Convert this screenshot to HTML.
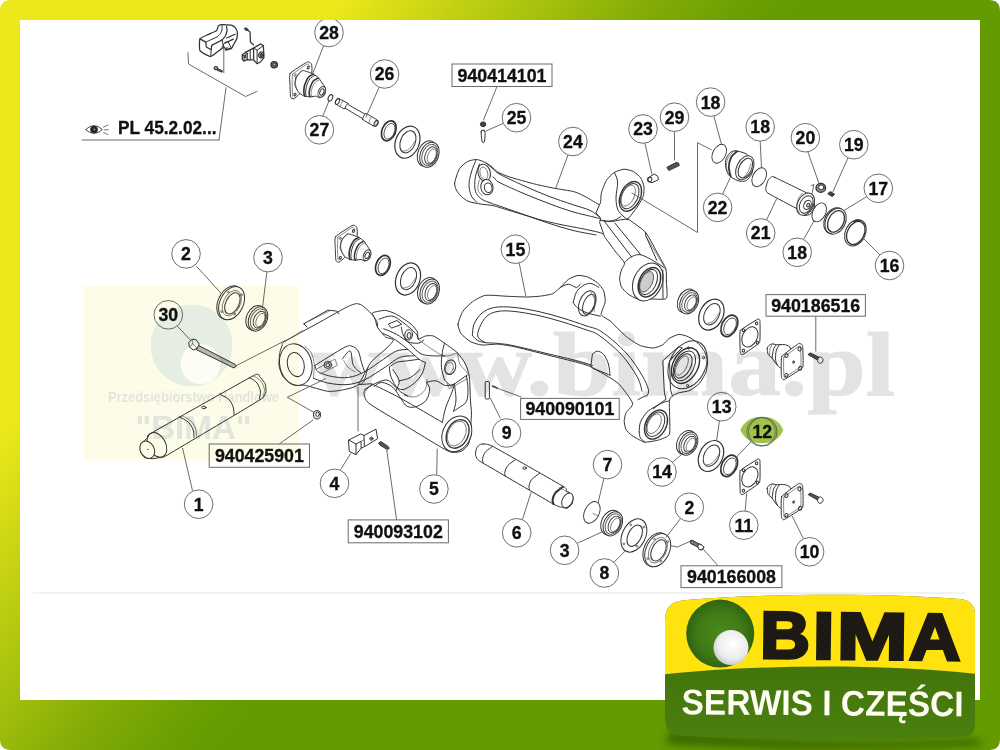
<!DOCTYPE html>
<html lang="pl"><head><meta charset="utf-8"><title>BIMA - serwis i części</title>
<style>
html,body{margin:0;padding:0;background:#fff;}
body{width:1000px;height:750px;overflow:hidden;font-family:'Liberation Sans',Arial,sans-serif;}
svg{display:block;}
.p{fill:#fff;stroke:#333;stroke-width:1;stroke-linejoin:round;stroke-linecap:round;}
.n{fill:none;stroke:#333;stroke-width:1;stroke-linejoin:round;stroke-linecap:round;}
.t{fill:none;stroke:#555;stroke-width:.7;stroke-linejoin:round;stroke-linecap:round;}
.l{fill:none;stroke:#5a5a5a;stroke-width:.9;stroke-linecap:round;}
.c{fill:#fff;stroke:#666;stroke-width:.95;}
.num{font-family:'Liberation Sans',Arial,sans-serif;font-weight:bold;font-size:17.7px;fill:#111;stroke:#111;stroke-width:.3;text-anchor:middle;}
.box{fill:#fff;stroke:#6a6a6a;stroke-width:1;}
.g{fill:#ddd;stroke:#333;stroke-width:1;}
</style></head><body>
<svg width="1000" height="750" viewBox="0 0 1000 750">
<defs>
<linearGradient id="fr" gradientUnits="userSpaceOnUse" x1="211.4" y1="164.9" x2="497.4" y2="388"><stop offset="0" stop-color="#ece81a"/><stop offset="0.239" stop-color="#c7d313"/><stop offset="0.5" stop-color="#9ebc0c"/><stop offset="0.696" stop-color="#81ab06"/><stop offset="0.891" stop-color="#6b9f02"/><stop offset="1" stop-color="#649b01"/></linearGradient>
<radialGradient id="ball" cx="0.55" cy="0.4" r="0.7"><stop offset="0" stop-color="#fff"/><stop offset="0.6" stop-color="#ececec"/><stop offset="1" stop-color="#bdbdbd"/></radialGradient>
<radialGradient id="gc" cx="0.5" cy="0.5" r="0.55"><stop offset="0" stop-color="#4a8a1c"/><stop offset="0.6" stop-color="#3f7a17"/><stop offset="1" stop-color="#2c5c0e"/></radialGradient>
<linearGradient id="lg" x1="0" y1="0" x2="0" y2="1"><stop offset="0" stop-color="#3c690a"/><stop offset="1" stop-color="#4a800e"/></linearGradient>
<filter id="sh" x="-10%" y="-10%" width="120%" height="140%"><feGaussianBlur stdDeviation="4"/></filter>
</defs>

<line x1="33" y1="593" x2="965" y2="593" stroke="#e6e6e6" stroke-width="1"/>
<g id="parts">
<path class="p" d="M200,38.9 C200.6,37.7 207.3,35 208.5,34.4 C209.7,33.8 215.9,31.3 216.6,30.6 C217.3,30 218.1,26 218.6,25.6 C219,25.1 222,24.5 222.9,24.5 C223.8,24.5 230.1,25 231,25.2 C231.9,25.4 234.3,26.7 234.8,27.2 C235.2,27.7 237.1,30.9 237.3,31.7 C237.5,32.5 237.3,37.1 237,38 C236.8,38.9 234.6,42.8 234.2,43.6 C233.7,44.3 232,47.9 231.5,48.4 C230.9,48.8 226.6,50.2 226.1,50.2 C225.5,50.1 224.9,46.7 223.8,47.2 C222.7,47.6 212.5,56.2 210.8,56.5 C209,56.7 200.7,51.9 200,50.6 C199.2,49.3 199.3,40.1 200,38.9Z" style="stroke-width:1.25"/>
<path class="n" d="M200,38.9 L205.8,42.1 L206.3,47 L211.2,49.7 L211.7,45.4 L222,40" style="stroke-width:1.25"/>
<path class="n" d="M222,40 C222.5,39.4 224.3,37.7 225.2,36.2 C226,34.7 226.7,32.5 227,30.8 C227.2,29.2 226.6,27.1 226.5,26.3" style="stroke-width:1.25"/>
<path class="n" d="M205.8,42.1 L217.1,36.9"/>
<path class="n" d="M211.2,49.7 L210.8,56.5"/>
<path class="n" d="M222,40 L223.8,47.2"/>
<path class="n" d="M217.1,36.9 C217.5,36.5 218.9,35.6 219.8,34.4 C220.6,33.2 221.6,31.4 222,29.9 C222.4,28.4 222,26.3 222,25.6"/>
<path class="n" d="M225.2,43 L233.3,39.1" style="stroke-width:1.25"/>
<path class="n" d="M226.7,38 L235.1,34.2" style="stroke-width:1.25"/>
<path class="n" d="M222,47 L224.9,42.5 L227.9,41.6 L231.5,48.4"/>
<path class="n" d="M226.1,50.2 L226.5,47.9 L231,48.6"/>
<path class="l" d="M223.8,47.2 L223.8,72.7"/>
<path class="g" d="M217.5,68.6 L222.5,70.9 L222,72.2 L217.1,70.2Z" style="fill:#666"/>
<ellipse class="g" cx="215.9" cy="68.2" rx="1.8" ry="1.5" transform="rotate(0 215.9 68.2)" style="fill:#bbb;stroke-width:1.2"/>
<path class="n" d="M246.8,29.7 L250.1,31.9 L250.4,42.1 L253.5,44.8" style="stroke-width:1.25"/>
<path class="g" d="M244.3,28.3 L246.5,27.9 L248.3,29.7 L247,30.6 L245,29.7Z" style="fill:#444"/>
<path class="p" d="M245.4,52.4 L253.5,48.1 L260.7,43.9 L263.4,45.7 L263.9,57.8 L260,62.3 L257.1,63.7 L253.5,59.8 L249,59.8 L247.2,59.6 L244.1,61 L242.3,59.6 L242.3,54.7Z" style="stroke-width:1.25"/>
<path class="n" d="M245.4,52.4 L247.2,53.5 L247.2,59.6" style="stroke-width:1.25"/>
<path class="n" d="M242.3,54.7 L244.1,55.8 L244.1,61"/>
<path class="n" d="M244.1,55.8 L247.2,53.5"/>
<path class="n" d="M253.5,48.1 L253.7,59.6" style="stroke-width:1.25"/>
<path class="n" d="M250.1,50.2 L250.3,59.6"/>
<path class="n" d="M253.5,48.1 L257.1,50.2 L257.1,63.7"/>
<path class="n" d="M257.1,50.2 L263.4,45.7"/>
<ellipse class="p" cx="261.2" cy="54.9" rx="2.4" ry="3" transform="rotate(15 261.2 54.9)" style="stroke-width:1.25"/>
<ellipse class="g" cx="261.4" cy="55.1" rx="1.2" ry="1.5" transform="rotate(15 261.4 55.1)" style="fill:#555"/>
<ellipse class="g" cx="245" cy="56.7" rx="0.7" ry="1.6" transform="rotate(0 245 56.7)" style="fill:#555"/>
<ellipse class="g" cx="274.2" cy="64.8" rx="3.2" ry="3.1" transform="rotate(0 274.2 64.8)" style="fill:#666;stroke-width:1.3"/>
<ellipse class="g" cx="274.6" cy="64.5" rx="1.4" ry="1.3" transform="rotate(0 274.6 64.5)" style="fill:#bbb"/>
<g transform="translate(0 0)">
<path class="p" d="M290.2,73.4 C291.6,71.5 304.9,63.3 306.6,62.4 C308.2,61.4 309.3,62.2 309.8,62.4 C310.2,62.6 311.5,64 311.7,64.8 C311.9,65.6 312.2,70.9 311.8,72.5 C311.4,74.1 307.9,82.2 306.9,84 C305.8,85.8 300.3,93 299.2,94.2 C298.1,95.5 294.5,98.6 293.8,98.8 C293,99.1 290.9,98.3 290.6,97.1 C290.3,96 290.1,87.3 290,85.3 C290,83.3 288.9,75.3 290.2,73.4Z"/>
<path class="t" d="M292.5,74.1 C293.9,73.1 304.6,65.4 306.2,64.5 C307.9,63.6 308.4,64.6 308.8,64.8 C309.2,65 309.7,66.5 309.8,66.7"/>
<path class="t" d="M292.5,74.1 C292.4,75.2 292.1,83.1 292.2,85.3 C292.2,87.5 292.6,95.1 292.7,96.2"/>
<ellipse class="n" cx="308.2" cy="67.7" rx="1" ry="1.4" transform="rotate(20 308.2 67.7)"/>
<ellipse class="t" cx="295" cy="75" rx="0.9" ry="1.3" transform="rotate(20 295 75)"/>
<ellipse class="n" cx="295" cy="94.6" rx="1" ry="1.4" transform="rotate(20 295 94.6)"/>
<path class="p" d="M296,77.6 C296.7,76.1 300.7,70.9 302.4,70.6 C304.1,70.2 311.7,73.3 313.3,74.1 C314.9,74.8 317.3,76.7 318.4,77.9 C319.5,79.1 323.4,84.7 324.2,85.9 C324.9,87.2 325.6,89.4 325.6,90.4 C325.6,91.4 324.7,94.8 324.2,95.5 C323.6,96.3 320.5,97.7 319.7,97.8 C318.8,97.8 316.8,96.3 315.8,96.2 C314.9,96.1 311.2,96.8 310.1,96.8 C309,96.8 305.7,96.5 304.6,96.2 C303.6,95.8 300.2,94 299.2,93 C298.2,91.9 295.4,86.8 295,85.3 C294.7,83.7 295.3,79.1 296,77.6Z"/>
<path class="t" d="M302.4,70.6 C301.7,71.3 299.1,73.1 297.9,75 C296.7,77 295.6,79.6 295.4,82.1 C295.2,84.5 296.5,88.5 296.8,89.8"/>
<path class="n" d="M313.3,74.1 C312.4,74.7 309.6,75.7 308.2,77.6 C306.7,79.5 305.4,82.9 304.6,85.3 C303.9,87.6 303.8,89.9 303.8,91.7 C303.8,93.5 304.5,95.4 304.6,96.2" style="stroke-width:1.6"/>
<path class="n" d="M314.9,75.4 C314,75.9 311.2,77 309.8,78.9 C308.3,80.7 307.1,84.2 306.4,86.6 C305.7,88.9 305.6,91.3 305.6,93 C305.6,94.6 306.2,95.9 306.4,96.5"/>
<path class="n" d="M318.4,77.9 C317.5,78.5 314.7,79.5 313.3,81.1 C311.9,82.8 310.8,85.8 310.1,87.8 C309.4,89.9 309.1,92.1 309.1,93.6 C309.1,95.1 309.9,96.3 310.1,96.8" style="stroke-width:1.5"/>
<path class="t" d="M320,79.5 C319.1,80.1 316.2,81.1 314.9,82.7 C313.5,84.3 312.4,87.2 311.8,89.1 C311.2,91 311,92.9 311,94.2 C311,95.5 311.7,96.5 311.8,96.9"/>
<ellipse class="p" cx="321.7" cy="91.8" rx="3.3" ry="5.6" transform="rotate(25 321.7 91.8)"/>
<ellipse class="n" cx="321.9" cy="92" rx="1.9" ry="3.3" transform="rotate(25 321.9 92)"/>
</g>
<g transform="translate(45.3 163.3)">
<path class="p" d="M290.2,73.4 C291.6,71.5 304.9,63.3 306.6,62.4 C308.2,61.4 309.3,62.2 309.8,62.4 C310.2,62.6 311.5,64 311.7,64.8 C311.9,65.6 312.2,70.9 311.8,72.5 C311.4,74.1 307.9,82.2 306.9,84 C305.8,85.8 300.3,93 299.2,94.2 C298.1,95.5 294.5,98.6 293.8,98.8 C293,99.1 290.9,98.3 290.6,97.1 C290.3,96 290.1,87.3 290,85.3 C290,83.3 288.9,75.3 290.2,73.4Z"/>
<path class="t" d="M292.5,74.1 C293.9,73.1 304.6,65.4 306.2,64.5 C307.9,63.6 308.4,64.6 308.8,64.8 C309.2,65 309.7,66.5 309.8,66.7"/>
<path class="t" d="M292.5,74.1 C292.4,75.2 292.1,83.1 292.2,85.3 C292.2,87.5 292.6,95.1 292.7,96.2"/>
<ellipse class="n" cx="308.2" cy="67.7" rx="1" ry="1.4" transform="rotate(20 308.2 67.7)"/>
<ellipse class="t" cx="295" cy="75" rx="0.9" ry="1.3" transform="rotate(20 295 75)"/>
<ellipse class="n" cx="295" cy="94.6" rx="1" ry="1.4" transform="rotate(20 295 94.6)"/>
<path class="p" d="M296,77.6 C296.7,76.1 300.7,70.9 302.4,70.6 C304.1,70.2 311.7,73.3 313.3,74.1 C314.9,74.8 317.3,76.7 318.4,77.9 C319.5,79.1 323.4,84.7 324.2,85.9 C324.9,87.2 325.6,89.4 325.6,90.4 C325.6,91.4 324.7,94.8 324.2,95.5 C323.6,96.3 320.5,97.7 319.7,97.8 C318.8,97.8 316.8,96.3 315.8,96.2 C314.9,96.1 311.2,96.8 310.1,96.8 C309,96.8 305.7,96.5 304.6,96.2 C303.6,95.8 300.2,94 299.2,93 C298.2,91.9 295.4,86.8 295,85.3 C294.7,83.7 295.3,79.1 296,77.6Z"/>
<path class="t" d="M302.4,70.6 C301.7,71.3 299.1,73.1 297.9,75 C296.7,77 295.6,79.6 295.4,82.1 C295.2,84.5 296.5,88.5 296.8,89.8"/>
<path class="n" d="M313.3,74.1 C312.4,74.7 309.6,75.7 308.2,77.6 C306.7,79.5 305.4,82.9 304.6,85.3 C303.9,87.6 303.8,89.9 303.8,91.7 C303.8,93.5 304.5,95.4 304.6,96.2" style="stroke-width:1.6"/>
<path class="n" d="M314.9,75.4 C314,75.9 311.2,77 309.8,78.9 C308.3,80.7 307.1,84.2 306.4,86.6 C305.7,88.9 305.6,91.3 305.6,93 C305.6,94.6 306.2,95.9 306.4,96.5"/>
<path class="n" d="M318.4,77.9 C317.5,78.5 314.7,79.5 313.3,81.1 C311.9,82.8 310.8,85.8 310.1,87.8 C309.4,89.9 309.1,92.1 309.1,93.6 C309.1,95.1 309.9,96.3 310.1,96.8" style="stroke-width:1.5"/>
<path class="t" d="M320,79.5 C319.1,80.1 316.2,81.1 314.9,82.7 C313.5,84.3 312.4,87.2 311.8,89.1 C311.2,91 311,92.9 311,94.2 C311,95.5 311.7,96.5 311.8,96.9"/>
<ellipse class="p" cx="321.7" cy="91.8" rx="3.3" ry="5.6" transform="rotate(25 321.7 91.8)"/>
<ellipse class="n" cx="321.9" cy="92" rx="1.9" ry="3.3" transform="rotate(25 321.9 92)"/>
</g>
<ellipse class="p" cx="330.4" cy="97.9" rx="2.1" ry="3.4" transform="rotate(25 330.4 97.9)"/>
<path class="p" d="M339,98.6 C339.6,98.9 347.5,103.1 348,103.4 C348.5,103.7 347.4,104.1 348.2,104.6 C349.1,105.2 363.9,113.6 364.8,114 C365.7,114.4 365.4,113.1 366,113.4 C366.6,113.7 376.8,119.5 377.4,120 C378,120.5 378.3,122.7 378.2,123 C378.2,123.3 377.3,125.6 377,125.8 C376.8,125.9 374.5,126.6 373.8,126.2 C373.1,125.9 363.2,119.9 362.6,119.5 C362.1,119.1 363,118.9 362.2,118.3 C361.3,117.8 345.9,108.7 345,108.2 C344.1,107.8 344.6,109.2 344.2,109 C343.7,108.8 336.4,104.5 336,104.2 C335.6,103.8 335.4,101.7 335.4,101.4 C335.4,101.1 336.8,99.1 337,99 C337.1,98.9 338.4,98.4 339,98.6Z"/>
<ellipse class="n" cx="337.4" cy="101.6" rx="1.7" ry="3.1" transform="rotate(28 337.4 101.6)"/>
<path class="n" d="M348,103.4 C347.7,103.8 346.7,104.8 346.2,105.6 C345.7,106.4 345.2,107.8 345,108.2"/>
<path class="t" d="M343.2,101 C342.9,101.4 341.9,102.3 341.4,103.2 C340.9,104.1 340.4,105.8 340.2,106.3"/>
<path class="n" d="M365.4,113.6 C365.1,114.1 364.1,115.2 363.6,116.2 C363.1,117.1 362.8,119 362.6,119.5"/>
<path class="t" d="M371.4,117 C371.1,117.5 370,118.7 369.6,119.8 C369.2,120.8 369.1,122.8 369,123.4"/>
<ellipse class="g" cx="376" cy="123.2" rx="1.6" ry="3" transform="rotate(28 376 123.2)"/>
<ellipse class="p" cx="388.8" cy="130.8" rx="6.8" ry="10.4" transform="rotate(22 388.8 130.8)" style="stroke-width:1.7"/>
<ellipse class="n" cx="389.5" cy="131.3" rx="5" ry="8.2" transform="rotate(22 389.5 131.3)" style="stroke-width:.8"/>
<ellipse class="p" cx="407.4" cy="142.2" rx="11.8" ry="16.6" transform="rotate(22 407.4 142.2)" style="stroke-width:1.2"/>
<ellipse class="p" cx="407.9" cy="141.8" rx="7.4" ry="11.6" transform="rotate(22 407.9 141.8)"/>
<path class="t" d="M402.9,151.2 Q409.4,152.2 415.6,140.2"/>
<ellipse class="p" cx="427.2" cy="153.6" rx="9.4" ry="13.2" transform="rotate(22 427.2 153.6)"/>
<ellipse class="p" cx="429.4" cy="154.8" rx="9.2" ry="13" transform="rotate(22 429.4 154.8)"/>
<ellipse class="n" cx="429.8" cy="155" rx="7.4" ry="11" transform="rotate(22 429.8 155)" style="stroke-width:1.1;stroke-dasharray:1.1 1.1;stroke:#555"/>
<ellipse class="p" cx="430.8" cy="155.4" rx="5.6" ry="9" transform="rotate(22 430.8 155.4)" style="stroke-width:.9"/>
<ellipse class="t" cx="431.8" cy="155.9" rx="4" ry="7.4" transform="rotate(22 431.8 155.9)"/>
<ellipse class="p" cx="382.9" cy="265.4" rx="6.8" ry="10.4" transform="rotate(22 382.9 265.4)" style="stroke-width:1.7"/>
<ellipse class="n" cx="383.6" cy="265.9" rx="5" ry="8.2" transform="rotate(22 383.6 265.9)" style="stroke-width:.8"/>
<ellipse class="p" cx="408" cy="279" rx="11.8" ry="16.6" transform="rotate(22 408 279)" style="stroke-width:1.2"/>
<ellipse class="p" cx="408.5" cy="278.6" rx="7.4" ry="11.6" transform="rotate(22 408.5 278.6)"/>
<path class="t" d="M403.5,288 Q410,289 416.2,277"/>
<ellipse class="p" cx="427.5" cy="290.3" rx="9.4" ry="13.2" transform="rotate(22 427.5 290.3)"/>
<ellipse class="p" cx="429.7" cy="291.5" rx="9.2" ry="13" transform="rotate(22 429.7 291.5)"/>
<ellipse class="n" cx="430.1" cy="291.7" rx="7.4" ry="11" transform="rotate(22 430.1 291.7)" style="stroke-width:1.1;stroke-dasharray:1.1 1.1;stroke:#555"/>
<ellipse class="p" cx="431.1" cy="292.1" rx="5.6" ry="9" transform="rotate(22 431.1 292.1)" style="stroke-width:.9"/>
<ellipse class="t" cx="432.1" cy="292.6" rx="4" ry="7.4" transform="rotate(22 432.1 292.6)"/>
<ellipse class="p" cx="687" cy="301" rx="8.9" ry="12.5" transform="rotate(27 687 301)"/>
<ellipse class="p" cx="689.2" cy="302.2" rx="8.7" ry="12.3" transform="rotate(27 689.2 302.2)"/>
<ellipse class="n" cx="689.6" cy="302.4" rx="7" ry="10.4" transform="rotate(27 689.6 302.4)" style="stroke-width:1.1;stroke-dasharray:1.1 1.1;stroke:#555"/>
<ellipse class="p" cx="690.6" cy="302.8" rx="5.3" ry="8.5" transform="rotate(27 690.6 302.8)" style="stroke-width:.9"/>
<ellipse class="t" cx="691.6" cy="303.3" rx="3.8" ry="7" transform="rotate(27 691.6 303.3)"/>
<ellipse class="p" cx="711.4" cy="314.6" rx="11.6" ry="16.3" transform="rotate(27 711.4 314.6)" style="stroke-width:1.2"/>
<ellipse class="p" cx="711.9" cy="314.2" rx="7.3" ry="11.4" transform="rotate(27 711.9 314.2)"/>
<path class="t" d="M707,323.4 Q713.4,324.4 719.4,312.6"/>
<ellipse class="p" cx="729.4" cy="325.8" rx="7.5" ry="11.4" transform="rotate(27 729.4 325.8)" style="stroke-width:1.7"/>
<ellipse class="n" cx="730.1" cy="326.3" rx="5.5" ry="9" transform="rotate(27 730.1 326.3)" style="stroke-width:.8"/>
<ellipse class="p" cx="686.2" cy="442.4" rx="8.9" ry="12.5" transform="rotate(27 686.2 442.4)"/>
<ellipse class="p" cx="688.4" cy="443.6" rx="8.7" ry="12.3" transform="rotate(27 688.4 443.6)"/>
<ellipse class="n" cx="688.8" cy="443.8" rx="7" ry="10.4" transform="rotate(27 688.8 443.8)" style="stroke-width:1.1;stroke-dasharray:1.1 1.1;stroke:#555"/>
<ellipse class="p" cx="689.8" cy="444.2" rx="5.3" ry="8.5" transform="rotate(27 689.8 444.2)" style="stroke-width:.9"/>
<ellipse class="t" cx="690.8" cy="444.7" rx="3.8" ry="7" transform="rotate(27 690.8 444.7)"/>
<ellipse class="p" cx="711" cy="456" rx="11.6" ry="16.3" transform="rotate(27 711 456)" style="stroke-width:1.2"/>
<ellipse class="p" cx="711.5" cy="455.6" rx="7.3" ry="11.4" transform="rotate(27 711.5 455.6)"/>
<path class="t" d="M706.6,464.8 Q713,465.8 719,454"/>
<ellipse class="p" cx="729.2" cy="465.8" rx="7.5" ry="11.4" transform="rotate(27 729.2 465.8)" style="stroke-width:1.7"/>
<ellipse class="n" cx="729.9" cy="466.3" rx="5.5" ry="9" transform="rotate(27 729.9 466.3)" style="stroke-width:.8"/>
<ellipse class="g" cx="483.1" cy="124.3" rx="2.7" ry="2.4" transform="rotate(0 483.1 124.3)" style="fill:#444"/>
<ellipse class="g" cx="483.1" cy="131.4" rx="1.8" ry="1.3" transform="rotate(0 483.1 131.4)" style="fill:#444"/>
<path class="p" d="M481.2,132 C481.3,130.7 482.6,130.4 483.1,130.4 C483.6,130.4 484.8,130.7 485,132 C485.2,133.3 484.9,138.5 484.7,140 C484.4,141.5 483.5,142.9 483.1,142.9 C482.7,142.9 482.1,141.5 481.8,140 C481.5,138.5 481,133.3 481.2,132Z"/>
<path class="p" d="M454.6,183.2 C454.9,180.8 458,171.1 459.4,168.8 C460.8,166.5 465.6,162.6 467.4,161.6 C469.2,160.6 474.5,159.5 476.2,159.5 C477.9,159.5 481.8,160.9 483.4,161.6 C485,162.3 489.9,165.3 491.4,166.4 C492.9,167.5 495.9,170.9 497.8,172 C499.7,173.1 505.1,175.5 509,176.8 C512.9,178.1 529.8,182.8 534.6,184 C539.4,185.2 549.8,187.4 554,188.2 C558.2,189 570.9,190.8 574.4,191.8 C577.9,192.8 583.7,195.9 586.4,197.2 C589.1,198.5 598,204.8 599.6,204.4 C601.2,204 600.6,195.8 601.3,193.2 C602,190.6 605,182.6 606.4,180.4 C607.8,178.2 612.5,173.6 614.4,172.4 C616.3,171.2 622,169.3 624,169.2 C626,169.1 631.8,170.7 633.6,171.6 C635.4,172.5 639.7,176.4 640.8,178 C641.9,179.6 643.7,184.8 644,186.8 C644.3,188.8 643.8,194.4 643.2,196.4 C642.6,198.4 639.6,203.3 638.4,205.2 C637.2,207.1 633.2,212.5 632,214 C630.8,215.5 627.6,219.1 627.2,219.6 C626.8,220.1 626.1,217.7 628,219 C629.9,220.3 642.3,228.7 645.4,232.2 C648.5,235.7 654.6,248.1 656.8,252 C659,255.9 664.8,265.6 665.8,268.8 C666.8,272 666.3,278.9 666.4,282 C666.5,285.1 667.9,296.4 666.4,298.2 C664.9,300 655.1,299 652,299 C648.9,299.1 640.2,299.3 637.6,298.8 C635,298.3 629.7,295.3 628,294 C626.3,292.7 622.3,288.5 621.4,286.8 C620.5,285.1 619.6,280.2 619.6,278.4 C619.6,276.6 620.9,271.7 621.4,270 C621.9,268.3 625.1,264.9 624.4,262.8 C623.7,260.8 616.8,253.5 614.8,250.8 C612.8,248.1 606.6,239.5 605.2,237.6 C603.8,235.7 604.5,234.2 601.9,233.2 C599.3,232.2 585.3,229.3 580.8,228.4 C576.3,227.5 564.2,225.3 560,224.4 C555.8,223.5 544.7,221 541,220 C537.3,219 528.4,216.2 525,215.2 C521.6,214.2 512.4,211.4 509,210.4 C505.6,209.4 496.1,206.3 493,205.6 C489.9,204.9 482.8,204.4 480.2,204 C477.6,203.6 470.9,202.3 469,201.6 C467.1,200.9 463.9,198.7 462.6,197.6 C461.3,196.5 457.9,192.7 457,191.2 C456.1,189.7 454.3,185.6 454.6,183.2Z"/>
<path class="n" d="M476.2,159.5 C475.4,161.6 472.6,167.8 471.4,172 C470.2,176.2 469,180.8 469,184.8 C469,188.8 470.1,193.1 471.4,196 C472.7,198.9 476.1,201.3 477,202.4"/>
<path class="n" d="M479.4,164 C478.7,166.1 476.1,172.3 475.4,176.8 C474.7,181.3 474.3,187.5 475.4,191.2 C476.5,194.9 479.1,197.2 481.8,199.2 C484.5,201.2 488.4,202 491.4,203.2 C494.4,204.4 494.6,204.3 500,206.2 C505.4,208.1 516,211.8 524,214.6 C532,217.4 540,220.4 548,223 C556,225.6 564,228.2 572,230.2 C580,232.2 592,234.2 596,235"/>
<path class="n" d="M485.8,162.7 C487,163.7 490.6,166.9 493,168.8 C495.4,170.7 494.8,171.6 500,174.4 C505.2,177.2 516,182.2 524,185.8 C532,189.4 540,192.9 548,196 C556,199.1 565,202 572,204.4 C579,206.8 585.3,208.2 590,210.4 C594.7,212.6 598.5,216.4 600.2,217.6"/>
<path class="n" d="M493,176.8 C493.5,177.3 495,179 496.2,180 C497.4,181 495.4,180.5 500,182.8 C504.6,185.1 516,190.2 524,193.6 C532,197 540,200.2 548,203.2 C556,206.2 564,209.2 572,211.6 C580,214 591.2,216.3 596,217.6 C600.8,218.9 600,219.1 600.8,219.4"/>
<ellipse class="n" cx="484.2" cy="172.8" rx="6.1" ry="8.8" transform="rotate(-15 484.2 172.8)"/>
<ellipse class="t" cx="483.9" cy="173.3" rx="3.8" ry="6.4" transform="rotate(-15 483.9 173.3)"/>
<ellipse class="p" cx="486.9" cy="187.2" rx="6.1" ry="7.7" transform="rotate(-10 486.9 187.2)"/>
<ellipse class="n" cx="488.2" cy="187.7" rx="3.8" ry="4.8" transform="rotate(-10 488.2 187.7)"/>
<path class="t" d="M479.4,180 C479.1,181.6 477.3,186.9 477.8,189.6 C478.3,192.3 481.8,194.9 482.6,196"/>
<path class="n" d="M599.6,204.4 L596,212.8 L600.8,218.8 L599.6,222.4 L603.4,233.4"/>
<path class="n" d="M614.4,172.4 C614.9,174 617.3,177.7 617.6,182 C617.9,186.3 615.9,193.2 616,198 C616.1,202.8 616.5,207.2 618.4,210.8 C620.3,214.4 625.7,218.1 627.2,219.6"/>
<ellipse class="p" cx="630.4" cy="196.4" rx="9.9" ry="15.7" transform="rotate(25 630.4 196.4)" style="stroke-width:1.3"/>
<ellipse class="n" cx="629.8" cy="196.1" rx="8" ry="13.4" transform="rotate(25 629.8 196.1)"/>
<ellipse class="t" cx="628.2" cy="195.6" rx="6.1" ry="11.2" transform="rotate(25 628.2 195.6)"/>
<path class="n" d="M600,220.4 C601.3,220.5 605.3,221.3 608,221.2 C610.7,221.1 613.9,220.4 616,219.6 C618.1,218.8 620,216.9 620.8,216.4"/>
<path class="n" d="M602.8,220.2 C604,220.4 607,221.7 610,221.6 C613,221.6 617.8,220.3 620.8,219.8 C623.8,219.4 626.8,219.1 628,219"/>
<path class="n" d="M604,220.8 L631.6,257"/>
<path class="n" d="M614.8,223 L640.6,254.6"/>
<path class="n" d="M645.4,232.2 L645.8,235.8 L656.8,260.4"/>
<path class="t" d="M645.8,235.8 L664,266.4"/>
<path class="n" d="M624.4,262.8 C625.4,261.9 628,258.8 630.4,257.4 C632.8,256 636,254.6 638.8,254.6 C641.6,254.6 644.2,256 647.2,257.4 C650.2,258.8 653.7,260.9 656.8,262.8 C659.9,264.7 664.3,267.8 665.8,268.8"/>
<ellipse class="p" cx="647.8" cy="282" rx="14.2" ry="19.8" transform="rotate(25 647.8 282)"/>
<ellipse class="p" cx="649.4" cy="282.2" rx="10.1" ry="15.6" transform="rotate(25 649.4 282.2)" style="stroke-width:1.5"/>
<ellipse class="n" cx="648.4" cy="282" rx="7.9" ry="13.4" transform="rotate(25 648.4 282)"/>
<ellipse class="g" cx="646.6" cy="281.8" rx="5.8" ry="11" transform="rotate(25 646.6 281.8)" style="fill:#ccc;stroke-width:.7"/>
<path class="n" d="M662.8,270 L663,298.2"/>
<path class="p" d="M647.7,178 L654.4,174 L657.9,176.4 L658.4,179.6 L652,182.8 L648.3,181.2Z"/>
<ellipse class="n" cx="649.9" cy="179.6" rx="1.8" ry="2.4" transform="rotate(25 649.9 179.6)"/>
<path class="g" d="M666.9,167.3 L676,162.5 L678.7,163.1 L679.2,165.7 L677.6,166.3 L668.8,170.5Z" style="fill:#555"/>
<ellipse class="p" cx="719.2" cy="153.7" rx="6.4" ry="10.1" transform="rotate(27 719.2 153.7)" style="stroke-width:.9"/>
<ellipse class="p" cx="759.2" cy="177.2" rx="6.4" ry="10.1" transform="rotate(27 759.2 177.2)" style="stroke-width:.9"/>
<ellipse class="p" cx="819.2" cy="212.4" rx="6.4" ry="10.1" transform="rotate(27 819.2 212.4)" style="stroke-width:.9"/>
<path class="p" d="M735.2,150.8 C737.4,150.9 744.1,152.5 746.4,154 C748.7,155.5 752.1,159.4 752.8,162 C753.5,164.6 752.9,170.7 752,173.2 C751.1,175.7 748,179.3 746.4,180.4 C744.8,181.5 742,181.6 740,181.2 C738,180.8 733,178.7 731.2,177.2 C729.4,175.7 727.1,172.2 726.4,170 C725.7,167.8 725.2,162.6 725.6,160.4 C726,158.2 728.3,154.5 729.6,153.2 C730.9,151.9 733,150.7 735.2,150.8Z"/>
<ellipse class="p" cx="744.8" cy="167.8" rx="8" ry="12.8" transform="rotate(27 744.8 167.8)"/>
<ellipse class="n" cx="745.3" cy="168.1" rx="6.1" ry="10.6" transform="rotate(27 745.3 168.1)"/>
<path class="t" d="M742.9,178 C743.7,177 746.7,174.3 748,171.9 C749.3,169.6 750.4,165.3 750.9,163.9"/>
<path class="n" d="M737.1,151.3 C736.1,152.3 732.6,154.6 731.2,157.2 C729.8,159.8 728.9,163.6 728.8,166.8 C728.7,170 730.4,174.8 730.7,176.4" style="stroke-width:1.8"/>
<path class="t" d="M733.6,151.6 C732.7,152.7 729.2,155.5 728,158 C726.8,160.5 726.3,163.9 726.4,166.8 C726.5,169.7 728.1,173.7 728.5,175.1"/>
<path class="p" d="M774.4,177.2 C777.5,178.6 805.5,192.2 808.8,194 C812.1,195.8 813.5,197.7 813.9,198.8 C814.4,199.9 814.7,205.5 814.4,206.8 C814.1,208.1 811.3,213.3 810.4,214 C809.5,214.7 804.9,215.9 804,215.6 C803.1,215.3 802.2,211.9 799.2,210 C796.2,208.1 770.8,195.1 768,193.2 C765.2,191.3 765.9,188.7 765.9,187.6 C765.9,186.5 767.6,181.3 768,180.4 C768.4,179.5 770.7,177.5 771.2,177.2 C771.7,176.9 771.3,175.8 774.4,177.2Z"/>
<ellipse class="p" cx="805.6" cy="204.1" rx="8" ry="11.8" transform="rotate(27 805.6 204.1)"/>
<ellipse class="n" cx="806.2" cy="204.4" rx="6.1" ry="9.3" transform="rotate(27 806.2 204.4)"/>
<ellipse class="n" cx="807.5" cy="204.9" rx="3.5" ry="4.8" transform="rotate(27 807.5 204.9)"/>
<ellipse class="g" cx="808.2" cy="205.2" rx="1.4" ry="1.9" transform="rotate(27 808.2 205.2)"/>
<path class="t" d="M802.4,193.2 C801.7,194.1 799.3,196.5 798.4,198.8 C797.5,201.1 796.7,204.5 796.8,206.8 C796.9,209.1 798.8,211.5 799.2,212.4"/>
<path class="l" d="M811.2,185.7 L813.9,184.4 L812,194"/>
<ellipse class="g" cx="820.8" cy="187.9" rx="4.8" ry="4.5" transform="rotate(0 820.8 187.9)" style="fill:#888;stroke-width:1.3"/>
<ellipse class="p" cx="821.3" cy="187.3" rx="2.7" ry="2.4" transform="rotate(0 821.3 187.3)"/>
<path class="g" d="M827.7,193.7 L830.4,191.6 L834.7,194.3 L832.2,196.6Z" style="fill:#444"/>
<ellipse class="p" cx="834.4" cy="220.6" rx="9.8" ry="13.6" transform="rotate(27 834.4 220.6)"/>
<ellipse class="p" cx="835.6" cy="221.2" rx="9.8" ry="13.6" transform="rotate(27 835.6 221.2)"/>
<ellipse class="p" cx="836" cy="221.4" rx="7.6" ry="11.4" transform="rotate(27 836 221.4)" style="stroke-width:1.3"/>
<ellipse class="p" cx="855.4" cy="232.8" rx="10" ry="13.8" transform="rotate(27 855.4 232.8)"/>
<ellipse class="p" cx="855.8" cy="233" rx="8.4" ry="12.2" transform="rotate(27 855.8 233)" style="stroke-width:1.3"/>
<path class="n" style="stroke-width:1.6" d="M854,221.5 Q857,219.5 860.5,221"/>
<ellipse class="p" cx="229.8" cy="302.4" rx="11.6" ry="17.6" transform="rotate(26 229.8 302.4)"/>
<ellipse class="p" cx="231.6" cy="303.2" rx="11.6" ry="17.6" transform="rotate(26 231.6 303.2)"/>
<ellipse class="p" cx="232.4" cy="303.4" rx="6.6" ry="11.4" transform="rotate(26 232.4 303.4)"/>
<ellipse class="t" cx="231.8" cy="303.2" rx="8.4" ry="13.6" transform="rotate(26 231.8 303.2)"/>
<circle cx="234.7" cy="314" r="0.9" fill="#fff" stroke="#333" stroke-width=".7"/>
<circle cx="221.6" cy="311.6" r="0.9" fill="#fff" stroke="#333" stroke-width=".7"/>
<circle cx="228.5" cy="292.4" r="0.9" fill="#fff" stroke="#333" stroke-width=".7"/>
<circle cx="241.6" cy="294.8" r="0.9" fill="#fff" stroke="#333" stroke-width=".7"/>
<ellipse class="p" cx="255.8" cy="317.8" rx="9.2" ry="12.9" transform="rotate(25 255.8 317.8)"/>
<ellipse class="p" cx="258" cy="319" rx="9" ry="12.7" transform="rotate(25 258 319)"/>
<ellipse class="n" cx="258.4" cy="319.2" rx="7.3" ry="10.8" transform="rotate(25 258.4 319.2)" style="stroke-width:1.1;stroke-dasharray:1.1 1.1;stroke:#555"/>
<ellipse class="p" cx="259.4" cy="319.6" rx="5.5" ry="8.8" transform="rotate(25 259.4 319.6)" style="stroke-width:.9"/>
<ellipse class="t" cx="260.4" cy="320.1" rx="3.9" ry="7.3" transform="rotate(25 260.4 320.1)"/>
<ellipse class="p" cx="633.9" cy="535.5" rx="11.6" ry="17.6" transform="rotate(26 633.9 535.5)"/>
<ellipse class="p" cx="634.7" cy="535.7" rx="6.6" ry="11.4" transform="rotate(26 634.7 535.7)"/>
<circle cx="637" cy="546.3" r="0.9" fill="#fff" stroke="#333" stroke-width=".7"/>
<circle cx="623.9" cy="543.9" r="0.9" fill="#fff" stroke="#333" stroke-width=".7"/>
<circle cx="630.8" cy="524.7" r="0.9" fill="#fff" stroke="#333" stroke-width=".7"/>
<circle cx="643.9" cy="527.1" r="0.9" fill="#fff" stroke="#333" stroke-width=".7"/>
<ellipse class="p" cx="655.9" cy="549.4" rx="11.6" ry="17.6" transform="rotate(26 655.9 549.4)"/>
<ellipse class="p" cx="657.7" cy="550.2" rx="11.6" ry="17.6" transform="rotate(26 657.7 550.2)"/>
<ellipse class="p" cx="658.5" cy="550.4" rx="6.6" ry="11.4" transform="rotate(26 658.5 550.4)"/>
<ellipse class="t" cx="657.9" cy="550.2" rx="8.4" ry="13.6" transform="rotate(26 657.9 550.2)"/>
<circle cx="660.8" cy="561" r="0.9" fill="#fff" stroke="#333" stroke-width=".7"/>
<circle cx="647.7" cy="558.6" r="0.9" fill="#fff" stroke="#333" stroke-width=".7"/>
<circle cx="654.6" cy="539.4" r="0.9" fill="#fff" stroke="#333" stroke-width=".7"/>
<circle cx="667.7" cy="541.8" r="0.9" fill="#fff" stroke="#333" stroke-width=".7"/>
<ellipse class="p" cx="610.7" cy="522.6" rx="9.2" ry="12.9" transform="rotate(26 610.7 522.6)"/>
<ellipse class="p" cx="612.9" cy="523.8" rx="9" ry="12.7" transform="rotate(26 612.9 523.8)"/>
<ellipse class="n" cx="613.3" cy="524" rx="7.3" ry="10.8" transform="rotate(26 613.3 524)" style="stroke-width:1.1;stroke-dasharray:1.1 1.1;stroke:#555"/>
<ellipse class="p" cx="614.3" cy="524.4" rx="5.5" ry="8.8" transform="rotate(26 614.3 524.4)" style="stroke-width:.9"/>
<ellipse class="t" cx="615.3" cy="524.9" rx="3.9" ry="7.3" transform="rotate(26 615.3 524.9)"/>
<ellipse class="p" cx="591.9" cy="512.4" rx="7.3" ry="11.5" transform="rotate(26 591.9 512.4)" style="stroke-width:.9"/>
<path class="t" d="M593,513.5 L598,516"/>
<path class="g" d="M689.9,541.1 L692,540.1 L699,543.9 L701.8,544.9 L703.9,547.1 L702.1,549.9 L699.3,549.5 L697.9,547.1 L690.6,543.5Z" style="fill:#777"/>
<path class="p" d="M699,543.9 L701.8,544.9 L703.9,547.1 L702.1,549.9 L699.3,549.5 L697.9,547.1Z"/>
<path class="g" d="M198,345.2 L235.2,364.4 L236.4,366.2 L234,368 L196.2,349.6Z" style="fill:#bbb"/>
<path class="p" d="M189,342.2 L192,339.2 L196.2,339.8 L199.2,344 L197.4,348.2 L193.2,350 L189.6,347Z"/>
<path class="t" d="M192,339.2 L192.6,344 L189.6,347"/>
<path class="t" d="M192.6,344 L197.4,348.2"/>
<path class="p" d="M150.8,433.4 C157.8,429.3 245.9,379.6 253.2,375.8 C260.5,372 258.8,376.1 259.6,376.6 C260.4,377.1 264.8,382.8 265.2,383.8 C265.6,384.8 266.2,390.9 266,391.8 C265.8,392.7 264.4,396.6 262.8,397.9 C261.2,399.1 248.5,406.8 242,410.7 C235.5,414.5 171.4,452.7 166,455.8 C160.6,458.9 161.3,457.2 160.4,457.4 C159.5,457.6 153.5,458.7 152.4,458.7 C151.3,458.7 145.2,457.9 144.4,457.4 C143.6,456.9 140.6,451.9 140.4,451 C140.2,450.1 140.6,444.5 140.9,443.8 C141.1,443.1 143.9,441.1 144.4,440.6 C144.9,440.1 148,437.1 148.4,436.6 C148.8,436.1 143.8,437.5 150.8,433.4Z"/>
<ellipse class="n" cx="156.9" cy="444.9" rx="8.8" ry="13.1" transform="rotate(-28 156.9 444.9)"/>
<ellipse class="p" cx="147.3" cy="449.7" rx="6.9" ry="9.1" transform="rotate(-28 147.3 449.7)"/>
<path class="n" d="M249.2,377.7 C250.4,378.5 254.5,380 256.4,382.2 C258.3,384.4 259.9,388.2 260.4,391 C260.9,393.8 259.5,397.7 259.3,399"/>
<path class="t" d="M253.2,375.8 C254.4,376.6 258.5,378.3 260.4,380.6 C262.3,382.9 264,386.5 264.4,389.4 C264.8,392.3 263.1,396.5 262.8,397.9"/>
<path class="n" d="M179.6,417.1 C181.1,417.9 186.1,420 188.4,422.2 C190.7,424.4 192.3,427.7 193.2,430.2 C194.1,432.7 193.9,436.2 194,437.4"/>
<path class="t" d="M182,415.8 C183.5,416.7 188.5,418.7 190.8,420.9 C193.1,423.1 194.7,426.4 195.6,428.9 C196.5,431.4 196.3,434.7 196.4,435.8"/>
<path class="n" d="M219.6,394.2 C221.1,395 226.1,396.9 228.4,399 C230.7,401.1 232.3,404.4 233.2,407 C234.1,409.6 233.9,413.3 234,414.5"/>
<ellipse class="n" cx="203.9" cy="407.5" rx="2.1" ry="1.3" transform="rotate(0 203.9 407.5)"/>
<circle cx="147.9" cy="449.4" r=".7" fill="#333"/>
<ellipse class="g" cx="317" cy="414.8" rx="3.6" ry="4.2" transform="rotate(0 317 414.8)"/>
<ellipse class="p" cx="317.6" cy="414.2" rx="1.8" ry="2.1" transform="rotate(0 317.6 414.2)"/>
<path class="p" d="M377.4,327 C378.4,320.8 374.7,318.8 374.2,317.4 C373.7,316 371.5,313.5 372.6,312.8 C373.7,312.1 383,310.2 385.4,310.4 C387.8,310.6 394,313 396.6,314.4 C399.2,315.8 408.9,322.2 411,324 C413.1,325.8 416.7,330.5 417.4,332 C418.1,333.5 417.4,338.8 418.2,339.2 C419,339.6 423.9,336.3 425.4,336 C426.9,335.7 431.5,335.3 433.4,336 C435.3,336.7 442.2,341.5 444.6,343.2 C447,344.9 455.3,350.7 457.4,352.8 C459.5,354.9 464.2,361.6 465.4,364 C466.6,366.4 468.9,373.2 469.4,376.8 C469.9,380.4 470.2,396.4 470.4,400 C470.6,403.6 471.5,410.4 471.5,412.8 C471.6,415.2 470.9,421.9 470.9,424 C470.9,426.1 471.8,431.5 471.5,433.6 C471.2,435.7 469,443 468,444.8 C467,446.6 463.2,450.4 461.6,451.2 C460,452 453.9,452.6 452,452.3 C450.1,452 447.2,450.8 442.4,448 C437.6,445.2 411.4,429.3 404,424.8 C396.6,420.3 372.8,406.5 368.8,403.2 C364.8,399.9 363.7,393.9 364,392 C364.3,390.1 372.6,384.7 372,384 C371.4,383.3 358.9,385 358.2,384.6 C357.5,384.2 362.7,385.6 364.6,379.8 C366.5,374 376.4,333.2 377.4,327Z"/>
<path class="n" d="M372,384 C376.8,386.4 389.1,392 400.8,398.4 C412.5,404.8 435.5,418.4 442.4,422.4"/>
<path class="n" d="M442.4,422.4 C442.9,420 444,413.1 445.6,408 C447.2,402.9 450.5,396 452,392 C453.5,388 454,385.3 454.4,384"/>
<path class="n" d="M374.4,386.4 C375.6,385.7 378.5,382.3 381.6,382.4 C384.7,382.5 389.6,384.5 392.8,387.2 C396,389.9 399.5,396.5 400.8,398.4"/>
<path class="n" d="M400.8,398.4 C401.9,399.7 404.5,405.1 407.2,406.4 C409.9,407.7 413.6,407.5 416.8,406.4 C420,405.3 424.3,402.9 426.4,400 C428.5,397.1 429.6,391.7 429.6,388.8 C429.6,385.9 426.9,383.5 426.4,382.4"/>
<path class="n" d="M426.4,382.4 C428,382.1 432.8,380.3 436,380.8 C439.2,381.3 442.5,385.1 445.6,385.6 C448.7,386.1 452.9,384.3 454.4,384"/>
<path class="n" d="M454.4,384 C454.7,386.7 456.1,395.5 456,400 C455.9,404.5 454,409.3 453.6,411.2"/>
<path class="n" d="M466.4,376 C466.7,378.1 468,384.5 468,388.8 C468,393.1 468,398.4 466.4,401.6 C464.8,404.8 460.5,406.4 458.4,408 C456.3,409.6 454.4,410.7 453.6,411.2"/>
<path class="n" d="M392.8,369.6 C393.9,371.5 398.7,377.3 399.2,380.8 C399.7,384.3 396.5,388.8 396,390.4"/>
<path class="n" d="M399.2,380.8 C401.1,380.3 406.9,379.5 410.4,377.6 C413.9,375.7 418.4,370.9 420,369.6"/>
<path class="t" d="M404,395.2 C405.9,395.5 411.7,397.6 415.2,396.8 C418.7,396 422.8,393.3 424.8,390.4 C426.8,387.5 426.8,381.1 427.2,379.2"/>
<ellipse class="p" cx="456.8" cy="433.9" rx="14.1" ry="18.6" transform="rotate(25 456.8 433.9)"/>
<ellipse class="p" cx="457.6" cy="433.9" rx="10.6" ry="15" transform="rotate(25 457.6 433.9)" style="stroke-width:1.3"/>
<ellipse class="t" cx="456.8" cy="433.6" rx="8.6" ry="13.1" transform="rotate(25 456.8 433.6)"/>
<path class="n" d="M444.6,343.2 C444.2,344.8 442.7,348.8 442.2,352.8 C441.7,356.8 441,362.7 441.4,367.2 C441.8,371.7 444.1,377.9 444.6,380"/>
<ellipse class="p" cx="450.2" cy="367.2" rx="5.4" ry="7.4" transform="rotate(15 450.2 367.2)"/>
<ellipse class="t" cx="449.4" cy="368" rx="3.8" ry="5.8" transform="rotate(15 449.4 368)"/>
<path class="n" d="M444.6,380 L451,386.4 L467,375.2"/>
<path class="t" d="M447,383.2 L449.4,388.8 L467.8,378.4"/>
<path class="t" d="M457.4,352.8 C457.8,354.7 458.5,361.1 459.8,364 C461.1,366.9 463.8,368.3 465.4,370.4 C467,372.5 468.7,375.7 469.4,376.8"/>
<ellipse class="p" cx="408.6" cy="334.9" rx="3.8" ry="5.1" transform="rotate(10 408.6 334.9)"/>
<ellipse class="n" cx="409.1" cy="335.5" rx="1.9" ry="2.9" transform="rotate(10 409.1 335.5)"/>
<path class="n" d="M379,319.2 C381.1,318.7 387.8,315.5 391.8,316 C395.8,316.5 399,319.5 403,322.4 C407,325.3 413.3,330.8 415.8,333.6 C418.3,336.4 417.8,338.3 418.2,339.2"/>
<path class="n" d="M388.6,324 L396.9,320.5 L401.7,324.3 L391.8,328Z"/>
<path class="n" d="M401.4,327.2 C401.7,328.4 401.9,332 403,334.4 C404.1,336.8 405.3,340.1 407.8,341.6 C410.3,343.1 415.5,343.5 418.2,343.2 C420.9,342.9 422.9,340.5 423.8,340"/>
<path class="t" d="M418.2,339.2 C420.2,340.7 425.8,345.2 430.2,348 C434.6,350.8 440.1,355.2 444.6,356 C449.1,356.8 455.3,353.3 457.4,352.8"/>
<path class="n" d="M379,332 C381.1,332.9 387.3,334.9 391.8,337.6 C396.3,340.3 401.7,344.4 406.2,348 C410.7,351.6 415.8,356.8 419,359.2 C422.2,361.6 424.3,361.9 425.4,362.4"/>
<path class="n" d="M383.8,328.8 C385.9,329.7 392.3,332 396.6,334.4 C400.9,336.8 405.1,339.9 409.4,343.2 C413.7,346.5 416.3,352.3 422.2,354.4 C428.1,356.5 440.9,355.7 444.6,356"/>
<path class="n" d="M425.4,362.4 C424.9,364.3 424.1,370.1 422.2,373.6 C420.3,377.1 417.4,380.5 414.2,383.2 C411,385.9 406.2,389.1 403,389.6 C399.8,390.1 396.3,386.9 395,386.4"/>
<path class="n" d="M389.4,367.2 C390.6,366.4 393.5,363.5 396.6,362.4 C399.7,361.3 404.1,361.3 407.8,360.8 C411.5,360.3 417.1,359.5 419,359.2"/>
<path class="n" d="M389.4,367.2 C389.7,368.8 389.5,373.1 391,376.8 C392.5,380.5 395.4,386.4 398.2,389.6 C401,392.8 406.2,394.9 407.8,396"/>
<path class="n" d="M364.6,389.6 C366.5,388.5 372.1,384.8 375.8,383.2 C379.5,381.6 383.8,379.5 387,380 C390.2,380.5 393.7,385.3 395,386.4"/>
<path class="p" d="M284.6,341.4 C288.2,339.2 312.1,326.4 318.2,323 C324.3,319.6 342,309.6 345.4,307.8 C348.8,306 350.7,305.3 351.8,304.9 C352.9,304.5 355.6,303.6 356.6,303.6 C357.6,303.6 360.4,304.3 361.4,304.9 C362.4,305.5 366,308.5 367,309.4 C368,310.3 371,313.2 371.8,314.2 C372.6,315.2 374.4,317.7 375,319 C375.6,320.3 376.4,325.2 377.4,327 C378.4,328.8 383.8,335.6 385.4,336.9 C387,338.2 393.2,338.7 393.4,339.8 C393.6,340.9 389.2,345.6 387,347.8 C384.8,350 373.9,358.5 371,362.2 C368.1,365.9 360.9,381.8 358.2,384.6 C355.5,387.4 346.8,389 343.8,389.7 C340.8,390.4 331.6,391.8 327.8,391.3 C324,390.9 308.9,386.1 305.4,385.4 C301.9,384.7 294.8,385.5 292.6,384.6 C290.4,383.7 284.4,378.5 283,376.6 C281.6,374.7 279.3,367.8 279,365.4 C278.7,363 279.5,354.6 279.8,352.6 C280.1,350.6 281.7,346.5 282.2,345.4 C282.7,344.3 281,343.6 284.6,341.4Z"/>
<path class="n" d="M303.8,323.8 L327.8,310.2 L336.6,311 L339,313.9"/>
<path class="n" d="M303.8,323.8 L307,327"/>
<path class="t" d="M309.4,320.9 L330.2,310.5"/>
<path class="t" d="M284.6,341.4 L295.8,335 L302.2,330.5"/>
<ellipse class="p" cx="295.8" cy="364.6" rx="16" ry="21.1" transform="rotate(-14 295.8 364.6)"/>
<ellipse class="p" cx="295.8" cy="364.6" rx="8.3" ry="12.2" transform="rotate(-14 295.8 364.6)"/>
<path class="t" d="M304.6,346.2 C305.7,347.3 309.4,349.7 311,352.6 C312.6,355.5 313.8,359.5 314.2,363.8 C314.6,368.1 313.5,375.8 313.4,378.2"/>
<path class="n" d="M313.4,378.2 C315.8,379 322.2,381.9 327.8,383 C333.4,384.1 340.9,385.1 347,384.6 C353.1,384.1 358.2,382.7 364.6,379.8 C371,376.9 379.5,370.7 385.4,367 C391.3,363.3 395,359.3 399.8,357.4 C404.6,355.5 411.8,356.1 414.2,355.8"/>
<path class="n" d="M315,365.4 C315.5,366.5 315.3,369.9 318.2,371.8 C321.1,373.7 327.5,375.7 332.6,376.6 C337.7,377.5 343.3,378.2 348.6,377.4 C353.9,376.6 358.7,374.9 364.6,371.8 C370.5,368.7 378.5,362.5 383.8,359 C389.1,355.5 392.6,352.6 396.6,351 C400.6,349.4 405.9,349.7 407.8,349.4"/>
<path class="n" d="M315,365.4 C319.8,362.5 337.7,351 343.8,347.8 C349.9,344.6 349.4,345.7 351.8,346.2 C354.2,346.7 356.6,348.3 358.2,351 C359.8,353.7 360.3,358.7 361.4,362.2 C362.5,365.7 364.1,370.2 364.6,371.8"/>
<ellipse class="p" cx="327.8" cy="364.9" rx="3.8" ry="3.5" transform="rotate(0 327.8 364.9)"/>
<ellipse class="n" cx="327.8" cy="364.9" rx="1.9" ry="1.8" transform="rotate(0 327.8 364.9)"/>
<path class="t" d="M316.9,368.9 L335,359 L337.4,365.4 L319.8,374.2"/>
<path class="n" d="M342.2,359 C343.5,357.7 348.3,349.9 350.2,351 C352.1,352.1 351.5,361.7 353.4,365.4 C355.3,369.1 360.1,372.1 361.4,373.4"/>
<path class="t" d="M343.8,360.6 C344.5,361.7 345.9,365.1 347.8,367 C349.7,368.9 353.8,371 355,371.8"/>
<path class="p" d="M458,324.2 C458.2,322 461.4,313.6 462.8,311.4 C464.2,309.2 470.2,303.4 472.4,301.8 C474.6,300.2 481.8,296 485.2,295.4 C488.6,294.8 501.8,296 506,296.2 C510.2,296.4 523.4,297 526.8,297 C530.2,297 537,296.5 539.6,296.2 C542.2,295.9 550.3,294.7 552.4,293.8 C554.5,292.9 558.8,288.8 560.4,287.4 C562,286 566.6,280.6 568.4,279.4 C570.2,278.2 576.1,275.6 578,275.4 C579.9,275.2 585.7,276.3 587.6,277 C589.5,277.7 595.6,281.2 597.2,282.6 C598.8,284 602.8,288.7 603.6,290.6 C604.4,292.5 605.4,299.4 605.2,301.8 C605,304.2 600.7,312.7 601.2,314.6 C601.7,316.5 608.3,319.4 610,320.8 C611.7,322.2 616.2,327.1 618,328.8 C619.8,330.5 625.4,335.9 627.6,337.6 C629.8,339.3 637.8,344.6 640.4,345.6 C643,346.6 651,348.1 653.2,348 C655.4,347.9 661.2,345.8 662.8,344.8 C664.4,343.8 667.6,339.4 669.2,338.4 C670.8,337.4 676.9,334.6 678.8,334.4 C680.7,334.2 686.5,335.9 688.4,336.8 C690.3,337.7 696.4,341.8 698,343.2 C699.6,344.6 703.4,349.4 704.4,351.2 C705.4,353 707.4,358.7 707.6,360.8 C707.8,362.9 706.8,369.8 706,372 C705.2,374.2 701.2,381.4 699.6,383.2 C698,385 692.1,389.4 690,390.4 C687.9,391.4 680.6,392.2 678.8,392.8 C677,393.4 673.3,395.1 672.4,396 C671.5,396.9 669.7,397.8 669.4,401.4 C669.2,405 670.1,428.5 669.8,432 C669.5,435.5 668.1,436 666.8,436.8 C665.5,437.6 659.4,439.9 657.2,440.4 C655,440.9 646.9,442.2 645.2,442.2 C643.5,442.2 641.7,441.1 640.4,440.4 C639.1,439.7 633.4,436.7 632,435.6 C630.6,434.5 626.8,431 626,429.6 C625.2,428.2 624.2,422.9 624.2,421.2 C624.2,419.5 625.2,414.6 626,412.8 C626.8,411 633.4,406.2 632.6,403.2 C631.8,400.2 622.1,386.8 618,383.2 C613.9,379.6 595.6,369.3 591.6,367.2 C587.6,365.1 582.6,363.9 578,362.6 C573.4,361.3 552.4,356.2 546,354.6 C539.6,353 518.8,347.6 514,346.6 C509.2,345.6 501.2,344.4 498,344.2 C494.8,344 484.7,345.2 482,345 C479.3,344.8 472.9,342.9 470.8,341.8 C468.7,340.7 462.5,335.6 461.2,333.8 C459.9,332 457.8,326.4 458,324.2Z"/>
<path class="n" d="M472.4,335.4 C472.7,333.5 472.4,327.9 474,324.2 C475.6,320.5 478.5,315.8 482,313 C485.5,310.2 489.5,308.3 494.8,307.4 C500.1,306.5 506.8,306.7 514,307.4 C521.2,308.1 530,309.7 538,311.4 C546,313.1 554,315.4 562,317.8 C570,320.2 579.3,323.4 586,325.8 C592.7,328.2 595.3,327.5 602,332 C608.7,336.5 619.3,345.6 626,352.8 C632.7,360 638.3,369.1 642,375.2 C645.7,381.3 647.6,386.1 648.4,389.6 C649.2,393.1 647.3,394.9 646.8,396 C646.3,397.1 646.7,395.4 645.2,396 C643.7,396.6 639.2,399 638,399.6"/>
<path class="n" d="M485.2,342.6 C484,341.7 478.9,339.5 478,337 C477.1,334.5 478.1,330.9 479.6,327.4 C481.1,323.9 483.7,318.9 486.8,316.2 C489.9,313.5 493.5,312.2 498,311.4 C502.5,310.6 507.3,310.7 514,311.4 C520.7,312.1 530,313.7 538,315.4 C546,317.1 554,319.4 562,321.8 C570,324.2 579.9,327.6 586,329.8 C592.1,332 592.9,331.1 598.8,335.2 C604.7,339.3 614.8,347.5 621.2,354.4 C627.6,361.3 633.7,370.7 637.2,376.8 C640.7,382.9 641.2,388.8 642,391.2"/>
<path class="n" d="M472.4,335.4 C473.2,336.2 475.1,339 477.2,340.2 C479.3,341.4 481.7,342.1 485.2,342.6 C488.7,343.1 493.2,342.9 498,343.4 C502.8,343.9 506,344.1 514,345.8 C522,347.5 535.3,350.8 546,353.3 C556.7,355.9 570.3,359 578,361 C585.7,363 590,364.7 592.4,365.5"/>
<path class="n" d="M592.4,354.4 C593.2,353.9 595.3,351.2 597.2,351.2 C599.1,351.2 601.7,352.3 603.6,354.4 C605.5,356.5 607.3,360.5 608.4,364 C609.5,367.5 609.7,373.3 610,375.2"/>
<path class="n" d="M592.4,354.4 C592.3,355.5 591.7,358.7 591.6,360.8 C591.5,362.9 590.1,365.5 591.6,367.2 C593.1,368.9 597.3,369.9 600.4,371.2 C603.5,372.5 608.4,374.5 610,375.2"/>
<path class="t" d="M570,359.2 L591.6,365.6"/>
<path class="n" d="M573.2,302.6 C573.7,300.9 574.8,295 576.4,292.2 C578,289.4 580.4,287.3 582.8,285.8 C585.2,284.3 588.1,283.1 590.8,283.4 C593.5,283.7 597.5,286.7 598.8,287.4"/>
<path class="n" d="M560.4,287.4 C561.7,286.9 565.7,284.2 568.4,284.2 C571.1,284.2 574.4,287.5 576.4,287.4 C578.4,287.3 579.7,284.5 580.4,283.9"/>
<ellipse class="p" cx="587.3" cy="303.4" rx="8" ry="13.1" transform="rotate(22 587.3 303.4)"/>
<ellipse class="n" cx="588.9" cy="304.2" rx="5.4" ry="10.6" transform="rotate(22 588.9 304.2)"/>
<path class="n" d="M573.2,302.6 C574,303.5 575.6,306.5 578,308.2 C580.4,309.9 583.9,311.7 587.6,313 C591.3,314.3 598.3,315.7 600.4,316.2"/>
<path class="t" d="M590.8,292.2 C591.5,293.5 594.3,297 594.8,300.2 C595.3,303.4 594.1,309.5 594,311.4"/>
<ellipse class="n" cx="687.6" cy="364.8" rx="17.9" ry="25.3" transform="rotate(27 687.6 364.8)"/>
<ellipse class="p" cx="685.5" cy="365.6" rx="12.5" ry="18.9" transform="rotate(27 685.5 365.6)" style="stroke-width:1.4"/>
<ellipse class="n" cx="684.4" cy="365.9" rx="9.6" ry="16" transform="rotate(27 684.4 365.9)"/>
<ellipse class="n" cx="683.3" cy="365.9" rx="7.4" ry="13.1" transform="rotate(27 683.3 365.9)"/>
<ellipse class="t" cx="682" cy="365.6" rx="4.8" ry="10.6" transform="rotate(27 682 365.6)"/>
<ellipse class="n" cx="688.4" cy="348" rx="1.1" ry="1.1" transform="rotate(0 688.4 348)"/>
<ellipse class="n" cx="703.6" cy="357.6" rx="1.1" ry="1.1" transform="rotate(0 703.6 357.6)"/>
<ellipse class="n" cx="672.4" cy="375.2" rx="1.1" ry="1.1" transform="rotate(0 672.4 375.2)"/>
<ellipse class="n" cx="687.6" cy="385.6" rx="1.1" ry="1.1" transform="rotate(0 687.6 385.6)"/>
<path class="n" d="M682,348 L678.8,346.4 L662.8,360.8 L664.4,392.8 L666,399.2 L653.2,408.8"/>
<path class="n" d="M682,348 L669.5,360.5 L670.5,389.6 L672.4,396"/>
<path class="t" d="M667.9,364 L675.6,354.4"/>
<path class="n" d="M639.2,432 C639.4,430.4 639.2,425.6 640.4,422.4 C641.6,419.2 644,415.4 646.4,412.8 C648.8,410.2 651.8,408.6 654.8,406.8 C657.8,405 662,403 664.4,402 C666.8,401 668.4,401.2 669.2,401"/>
<path class="n" d="M639.2,432 C639.4,433 639.4,436.3 640.4,438 C641.4,439.7 644.4,441.5 645.2,442.2"/>
<ellipse class="p" cx="656" cy="424.6" rx="10.3" ry="15.4" transform="rotate(27 656 424.6)" style="stroke-width:1.4"/>
<ellipse class="n" cx="655.4" cy="424.3" rx="8.2" ry="13" transform="rotate(27 655.4 424.3)"/>
<ellipse class="t" cx="654.2" cy="423.8" rx="6" ry="10.6" transform="rotate(27 654.2 423.8)"/>
<path class="p" d="M740.2,470.6 C741.1,469 756.9,459.7 757.8,459.1 C758.8,458.6 759.7,459.7 759.8,459.8 C759.9,460 760,461.5 760,462.6 C760,463.7 760.4,481.1 759.5,482.6 C758.7,484.2 743.9,493.8 743,494.4 C742,495 740.9,494.1 740.8,493.9 C740.7,493.8 740.2,492.9 740.2,491.8 C740.2,490.6 739.3,472.3 740.2,470.6Z"/>
<ellipse class="p" cx="749.9" cy="476.9" rx="7.4" ry="10.6" transform="rotate(27 749.9 476.9)"/>
<ellipse class="n" cx="743.4" cy="470.2" rx="1.2" ry="1.4" transform="rotate(20 743.4 470.2)"/>
<ellipse class="n" cx="756.6" cy="463.4" rx="1.2" ry="1.4" transform="rotate(20 756.6 463.4)"/>
<ellipse class="n" cx="757.4" cy="482.6" rx="1.2" ry="1.4" transform="rotate(20 757.4 482.6)"/>
<ellipse class="n" cx="743.4" cy="490.6" rx="1.2" ry="1.4" transform="rotate(20 743.4 490.6)"/>
<path class="p" d="M767.2,488.4 C767.3,487.4 768.4,485.9 769,485.4 C769.6,484.9 771.8,483.9 772.6,483.8 C773.4,483.8 774.9,484.7 776.2,484.8 C777.5,484.9 782.4,484.3 784,484.6 C785.6,484.8 789,485.6 790,487.2 C791,488.8 792.8,495.6 792.4,498 C792,500.4 787.8,506.5 786.4,507.6 C785,508.8 781.6,508.3 780.4,507.8 C779.2,507.4 777.2,505.2 776.2,504 C775.2,502.9 772.9,499.1 772,498 C771.1,496.9 768.7,495.5 768.2,494.4 C767.6,493.3 767.1,489.5 767.2,488.4Z"/>
<path class="n" d="M776.2,484.8 C775.7,485.6 774.1,487.4 773.4,489.6 C772.8,491.8 772.4,496.6 772.2,498"/>
<path class="n" d="M779.2,485 C778.7,486 776.8,488.2 776.2,490.8 C775.6,493.4 775.4,498.1 775.6,500.4 C775.8,502.7 777.1,503.9 777.4,504.6"/>
<path class="t" d="M772.6,483.8 C772.2,484.6 770.7,486.5 770.2,488.4 C769.7,490.3 769.7,493.9 769.6,495"/>
<path class="p" d="M781.6,496.6 C782.5,494.9 797.6,484.2 798.6,483.6 C799.7,483 801.8,484.4 802,484.6 C802.2,484.7 802.7,485.5 802.7,486.6 C802.8,487.7 803.6,505.7 802.7,507.4 C801.8,509 785.3,519 784.2,519.6 C783.2,520.2 782.3,518.8 782.2,518.6 C782.1,518.5 781.4,517.7 781.4,516.6 C781.3,515.5 780.7,498.2 781.6,496.6Z"/>
<path class="t" d="M783.8,497.4 C784.3,496.4 799.6,485.5 800.2,485.8 C800.8,486.1 801.3,505.4 800.8,506.4 C800.3,507.5 784.8,517.5 784.2,517.2 C783.7,516.9 783.2,498.4 783.8,497.4Z"/>
<ellipse class="n" cx="786.4" cy="495.6" rx="1.6" ry="1.9" transform="rotate(20 786.4 495.6)"/>
<ellipse class="n" cx="799.6" cy="489" rx="1.6" ry="1.9" transform="rotate(20 799.6 489)"/>
<ellipse class="n" cx="800.2" cy="508.3" rx="1.6" ry="1.9" transform="rotate(20 800.2 508.3)"/>
<ellipse class="n" cx="786.4" cy="515.4" rx="1.6" ry="1.9" transform="rotate(20 786.4 515.4)"/>
<ellipse class="n" cx="793.6" cy="502.1" rx="0.8" ry="1.1" transform="rotate(20 793.6 502.1)"/>
<path class="g" d="M808.2,494.6 L810.2,493 L819.4,497.4 L818.2,500.4Z" style="fill:#555"/>
<path class="p" d="M818.2,497.8 C818.5,497.4 820.1,496.9 820.6,497 C821.1,497.2 822.8,498.4 823,499 C823.2,499.5 822.8,501.8 822.4,502.2 C822,502.6 819.9,503.5 819.4,503.4 C818.9,503.3 817.7,501.6 817.6,501 C817.5,500.4 817.9,498.2 818.2,497.8Z"/>
<path class="p" d="M740.2,330.6 C741.1,329 756.9,319.7 757.8,319.1 C758.8,318.6 759.7,319.7 759.8,319.8 C759.9,320 760,321.5 760,322.6 C760,323.7 760.4,341.1 759.5,342.6 C758.7,344.2 743.9,353.8 743,354.4 C742,355 740.9,354.1 740.8,353.9 C740.7,353.8 740.2,352.9 740.2,351.8 C740.2,350.6 739.3,332.3 740.2,330.6Z"/>
<ellipse class="p" cx="749.9" cy="336.9" rx="7.4" ry="10.6" transform="rotate(27 749.9 336.9)"/>
<ellipse class="n" cx="743.4" cy="330.2" rx="1.2" ry="1.4" transform="rotate(20 743.4 330.2)"/>
<ellipse class="n" cx="756.6" cy="323.4" rx="1.2" ry="1.4" transform="rotate(20 756.6 323.4)"/>
<ellipse class="n" cx="757.4" cy="342.6" rx="1.2" ry="1.4" transform="rotate(20 757.4 342.6)"/>
<ellipse class="n" cx="743.4" cy="350.6" rx="1.2" ry="1.4" transform="rotate(20 743.4 350.6)"/>
<path class="p" d="M767.2,348.4 C767.3,347.4 768.4,345.9 769,345.4 C769.6,344.9 771.8,343.9 772.6,343.8 C773.4,343.8 774.9,344.7 776.2,344.8 C777.5,344.9 782.4,344.3 784,344.6 C785.6,344.8 789,345.6 790,347.2 C791,348.8 792.8,355.6 792.4,358 C792,360.4 787.8,366.5 786.4,367.6 C785,368.8 781.6,368.3 780.4,367.8 C779.2,367.4 777.2,365.2 776.2,364 C775.2,362.9 772.9,359.1 772,358 C771.1,356.9 768.7,355.5 768.2,354.4 C767.6,353.3 767.1,349.5 767.2,348.4Z"/>
<path class="n" d="M776.2,344.8 C775.7,345.6 774.1,347.4 773.4,349.6 C772.8,351.8 772.4,356.6 772.2,358"/>
<path class="n" d="M779.2,345 C778.7,346 776.8,348.2 776.2,350.8 C775.6,353.4 775.4,358.1 775.6,360.4 C775.8,362.7 777.1,363.9 777.4,364.6"/>
<path class="t" d="M772.6,343.8 C772.2,344.6 770.7,346.5 770.2,348.4 C769.7,350.3 769.7,353.9 769.6,355"/>
<path class="p" d="M781.6,356.6 C782.5,354.9 797.6,344.2 798.6,343.6 C799.7,343 801.8,344.4 802,344.6 C802.2,344.7 802.7,345.5 802.7,346.6 C802.8,347.7 803.6,365.7 802.7,367.4 C801.8,369 785.3,379 784.2,379.6 C783.2,380.2 782.3,378.8 782.2,378.6 C782.1,378.5 781.4,377.7 781.4,376.6 C781.3,375.5 780.7,358.2 781.6,356.6Z"/>
<path class="t" d="M783.8,357.4 C784.3,356.4 799.6,345.5 800.2,345.8 C800.8,346.1 801.3,365.4 800.8,366.4 C800.3,367.5 784.8,377.5 784.2,377.2 C783.7,376.9 783.2,358.4 783.8,357.4Z"/>
<ellipse class="n" cx="786.4" cy="355.6" rx="1.6" ry="1.9" transform="rotate(20 786.4 355.6)"/>
<ellipse class="n" cx="799.6" cy="349" rx="1.6" ry="1.9" transform="rotate(20 799.6 349)"/>
<ellipse class="n" cx="800.2" cy="368.3" rx="1.6" ry="1.9" transform="rotate(20 800.2 368.3)"/>
<ellipse class="n" cx="786.4" cy="375.4" rx="1.6" ry="1.9" transform="rotate(20 786.4 375.4)"/>
<ellipse class="n" cx="793.6" cy="362.1" rx="0.8" ry="1.1" transform="rotate(20 793.6 362.1)"/>
<path class="g" d="M808.2,354.6 L810.2,353 L819.4,357.4 L818.2,360.4Z" style="fill:#555"/>
<path class="p" d="M818.2,357.8 C818.5,357.4 820.1,356.9 820.6,357 C821.1,357.2 822.8,358.4 823,359 C823.2,359.5 822.8,361.8 822.4,362.2 C822,362.6 819.9,363.5 819.4,363.4 C818.9,363.3 817.7,361.6 817.6,361 C817.5,360.4 817.9,358.2 818.2,357.8Z"/>
<path class="p" d="M483.2,444 C484.1,444.1 487.4,443.6 492.8,446.4 C498.2,449.2 558.7,483.6 563.6,486.6 C568.5,489.6 565.6,491 566,491.4 C566.4,491.8 569.1,492.2 569.6,492.6 C570.1,493 573,496.6 573.2,497.4 C573.4,498.2 572.4,503.3 572,504 C571.6,504.7 567.8,508 567.2,508.2 C566.6,508.4 564.5,507.9 563.6,507.6 C562.7,507.3 559.4,507.3 554,504.4 C548.6,501.4 488.3,466.2 483.2,463.2 C478.1,460.2 477.7,459.6 477.2,459 C476.7,458.4 475.4,454.9 475.4,454.2 C475.4,453.5 476.3,448.8 476.6,448.2 C476.9,447.6 479.2,444.9 479.6,444.6 C480,444.3 482.3,443.9 483.2,444Z"/>
<path class="n" d="M492.8,446.4 C491.6,447.3 487.3,449.8 485.6,451.8 C483.9,453.8 483,456.5 482.6,458.4 C482.2,460.3 483.1,462.4 483.2,463.2"/>
<path class="n" d="M515.6,459.6 C514.3,460.6 509.6,463.5 507.8,465.6 C506,467.7 505.2,470.4 504.8,472.2 C504.4,474 505.3,475.7 505.4,476.4"/>
<path class="n" d="M539.6,473.4 C538.3,474.4 533.6,477.3 531.8,479.4 C530,481.5 529.4,484.2 529,486 C528.7,487.8 529.5,489.3 529.6,490"/>
<path class="n" d="M563,486.8 C561.7,487.9 556.9,491 555.2,493.2 C553.5,495.4 552.9,498 552.6,499.8 C552.3,501.6 553.3,503.3 553.4,504" style="stroke-width:2"/>
<path class="t" d="M559.4,487.8 C561.1,488.6 567.9,491.8 569.6,492.6"/>
<ellipse class="p" cx="567.4" cy="500.4" rx="5" ry="7.9" transform="rotate(27 567.4 500.4)"/>
<ellipse class="n" cx="524.6" cy="468.1" rx="1.7" ry="1.2" transform="rotate(0 524.6 468.1)"/>
<path class="p" d="M348.8,440 L360.8,433.9 L364,435.5 L376,429.1 L377.6,438.7 L367.2,445.1 L361.1,448.3 L356,454.7 L349.6,451.5Z"/>
<path class="n" d="M348.8,440 L356,444 L356,454.7"/>
<path class="n" d="M356,444 L361.1,441.3 L361.1,448.3"/>
<path class="n" d="M364,435.5 L364.3,445.6"/>
<path class="t" d="M361.1,441.3 L364,439.7"/>
<ellipse class="n" cx="371.4" cy="438.7" rx="1.6" ry="1.6" transform="rotate(0 371.4 438.7)"/>
<ellipse class="g" cx="371.4" cy="438.7" rx="0.6" ry="0.6" transform="rotate(0 371.4 438.7)"/>
<path class="g" d="M378.7,442.9 L381,441.6 L388,446.4 L389.3,448.3 L387.4,449.6 L380,445.1Z" style="fill:#555"/>
<rect class="p" x="485.2" y="381.5" width="4.2" height="17.5" rx="1.2"/>
<path class="n" style="stroke-width:1.6" d="M492.5,386 L497,388"/>
</g>
<g id="lead" class="l">
<line x1="82" y1="140" x2="219" y2="140"/>
<line x1="219" y1="140" x2="226" y2="87.7"/>
<line x1="323.5" y1="46" x2="313" y2="73"/>
<line x1="379" y1="87.5" x2="366" y2="117"/>
<line x1="323" y1="115.5" x2="329" y2="101"/>
<line x1="497" y1="86.5" x2="483.5" y2="120"/>
<line x1="503" y1="123.5" x2="486" y2="131"/>
<line x1="567.9" y1="155.3" x2="555.8" y2="187.9"/>
<line x1="645" y1="143.5" x2="651.9" y2="174"/>
<line x1="674.5" y1="131.5" x2="674.5" y2="160"/>
<line x1="713.9" y1="116.4" x2="721.4" y2="144"/>
<line x1="760.2" y1="141.5" x2="761.5" y2="167.8"/>
<line x1="807.9" y1="152" x2="819.2" y2="184"/>
<line x1="848" y1="157.8" x2="833" y2="191.6"/>
<line x1="866.8" y1="196.6" x2="844.2" y2="210.4"/>
<line x1="722.6" y1="194.1" x2="730.2" y2="177.8"/>
<line x1="766.5" y1="220" x2="776.5" y2="199.1"/>
<line x1="804.1" y1="238.5" x2="814.2" y2="220.5"/>
<line x1="863" y1="238" x2="880.6" y2="255.6"/>
<line x1="519.3" y1="263.5" x2="525.8" y2="296"/>
<line x1="196.6" y1="266.4" x2="221.7" y2="294"/>
<line x1="266.8" y1="272.2" x2="262.5" y2="307.8"/>
<line x1="177.8" y1="326.6" x2="190.3" y2="339.9"/>
<line x1="235.5" y1="366" x2="285.6" y2="340.4"/>
<line x1="719.4" y1="421" x2="716.6" y2="440.6"/>
<line x1="750.8" y1="442" x2="736.2" y2="457.4"/>
<line x1="671.8" y1="463" x2="683" y2="453.2"/>
<line x1="680.2" y1="519" x2="666.2" y2="537.2"/>
<line x1="745.2" y1="510.6" x2="746.6" y2="493.8"/>
<line x1="803.4" y1="538.6" x2="792.2" y2="516.2"/>
<line x1="522.6" y1="519.2" x2="531" y2="492.6"/>
<line x1="603.8" y1="478.6" x2="598.2" y2="502.4"/>
<line x1="577.8" y1="543" x2="602.4" y2="531.8"/>
<line x1="613.6" y1="562.6" x2="624.8" y2="551.4"/>
<line x1="500.2" y1="418" x2="490.4" y2="398.4"/>
<line x1="521.2" y1="397" x2="493.2" y2="386.7"/>
<line x1="815.8" y1="316.2" x2="815.8" y2="351.2"/>
<line x1="192.4" y1="490.2" x2="182.6" y2="448.2"/>
<line x1="312.8" y1="420.2" x2="279.2" y2="444"/>
<line x1="340.8" y1="469.2" x2="350.6" y2="453.8"/>
<line x1="436.7" y1="474.2" x2="437.2" y2="449"/>
<line x1="386.8" y1="450.4" x2="396.6" y2="519.9"/>
<line x1="358" y1="386.9" x2="358" y2="431"/>
<line x1="702.6" y1="548.4" x2="718" y2="565.8"/>
<polyline points="188,52.6 188.5,64 245.5,96.5 257,91.5"/>
<polyline points="632,193 697.5,232.5 697.5,142.7 711.3,149.7"/>
<polyline points="325.4,378.8 287.3,397.3 313.8,412.3"/>
<polyline points="670.4,545.6 677.4,547 690,541.4"/>
</g>
<path d="M740.3,430 C744,421 752,416.7 762,416.7 C772,416.7 780,421 783.2,430 C780,439 772,443.3 762,443.3 C752,443.3 744,439 740.3,430Z" fill="#a0c448"/>
<g id="labels">
<circle class="c" cx="329" cy="32.5" r="14.3"/>
<text class="num" x="329" y="38.9">28</text>
<circle class="c" cx="384.6" cy="74" r="14.3"/>
<text class="num" x="384.6" y="80.4">26</text>
<circle class="c" cx="319.4" cy="129.8" r="14.3"/>
<text class="num" x="319.4" y="136.20000000000002">27</text>
<circle class="c" cx="516.5" cy="117.7" r="14.3"/>
<text class="num" x="516.5" y="124.10000000000001">25</text>
<circle class="c" cx="572.9" cy="141.5" r="14.3"/>
<text class="num" x="572.9" y="147.9">24</text>
<circle class="c" cx="643" cy="129" r="14.3"/>
<text class="num" x="643" y="135.4">23</text>
<circle class="c" cx="674.5" cy="117.2" r="14.3"/>
<text class="num" x="674.5" y="123.60000000000001">29</text>
<circle class="c" cx="710.6" cy="102.1" r="14.3"/>
<text class="num" x="710.6" y="108.5">18</text>
<circle class="c" cx="760.2" cy="126.9" r="14.3"/>
<text class="num" x="760.2" y="133.3">18</text>
<circle class="c" cx="805.4" cy="137.7" r="14.3"/>
<text class="num" x="805.4" y="144.1">20</text>
<circle class="c" cx="853.8" cy="144.7" r="14.3"/>
<text class="num" x="853.8" y="151.1">19</text>
<circle class="c" cx="878.3" cy="188.3" r="14.3"/>
<text class="num" x="878.3" y="194.70000000000002">17</text>
<circle class="c" cx="717.6" cy="207.4" r="14.3"/>
<text class="num" x="717.6" y="213.8">22</text>
<circle class="c" cx="760.7" cy="233" r="14.3"/>
<text class="num" x="760.7" y="239.4">21</text>
<circle class="c" cx="797.2" cy="252.3" r="14.3"/>
<text class="num" x="797.2" y="258.7">18</text>
<circle class="c" cx="889.5" cy="265.5" r="14.3"/>
<text class="num" x="889.5" y="271.9">16</text>
<circle class="c" cx="515.4" cy="249.2" r="14.3"/>
<text class="num" x="515.4" y="255.6">15</text>
<circle class="c" cx="186" cy="253.9" r="14.3"/>
<text class="num" x="186" y="260.3">2</text>
<circle class="c" cx="268" cy="257.6" r="14.3"/>
<text class="num" x="268" y="264.0">3</text>
<circle class="c" cx="168.3" cy="314.8" r="14.3"/>
<text class="num" x="168.3" y="321.2">30</text>
<circle class="c" cx="721.7" cy="406.7" r="14.3"/>
<text class="num" x="721.7" y="413.09999999999997">13</text>
<circle cx="761.0" cy="431.7" r="14.3" fill="none" stroke="#566" stroke-width="0.8"/><circle cx="762.6999999999999" cy="431.7" r="14.3" fill="none" stroke="#555" stroke-width="0.9"/>
<text class="num" x="762.3" y="438.09999999999997">12</text>
<circle class="c" cx="662" cy="472" r="14.3"/>
<text class="num" x="662" y="478.4">14</text>
<circle class="c" cx="506.6" cy="433" r="14.3"/>
<text class="num" x="506.6" y="439.4">9</text>
<circle class="c" cx="607.5" cy="464.6" r="14.3"/>
<text class="num" x="607.5" y="471.0">7</text>
<circle class="c" cx="689.3" cy="507.2" r="14.3"/>
<text class="num" x="689.3" y="513.6">2</text>
<circle class="c" cx="743.8" cy="525.2" r="14.3"/>
<text class="num" x="743.8" y="531.6">11</text>
<circle class="c" cx="809.6" cy="551.8" r="14.3"/>
<text class="num" x="809.6" y="558.1999999999999">10</text>
<circle class="c" cx="516.7" cy="532.8" r="14.3"/>
<text class="num" x="516.7" y="539.1999999999999">6</text>
<circle class="c" cx="564.6" cy="550.3" r="14.3"/>
<text class="num" x="564.6" y="556.6999999999999">3</text>
<circle class="c" cx="604.4" cy="573" r="14.3"/>
<text class="num" x="604.4" y="579.4">8</text>
<circle class="c" cx="198.6" cy="504.2" r="14.3"/>
<text class="num" x="198.6" y="510.59999999999997">1</text>
<circle class="c" cx="334.5" cy="483.3" r="14.3"/>
<text class="num" x="334.5" y="489.7">4</text>
<circle class="c" cx="433.9" cy="489" r="14.3"/>
<text class="num" x="433.9" y="495.4">5</text>
</g>
<g id="boxes">
<rect class="box" x="452" y="64" width="100.0" height="22.5"/>
<text x="502.0" y="81.5" font-family="'Liberation Sans', Arial, sans-serif" font-weight="bold" font-size="18" fill="#111" stroke="#111" stroke-width=".3" text-anchor="middle" textLength="89" lengthAdjust="spacingAndGlyphs">940414101</text>
<rect class="box" x="766" y="294.6" width="99.4" height="21.6"/>
<text x="815.7" y="311.7" font-family="'Liberation Sans', Arial, sans-serif" font-weight="bold" font-size="18" fill="#111" stroke="#111" stroke-width=".3" text-anchor="middle" textLength="89" lengthAdjust="spacingAndGlyphs">940186516</text>
<rect class="box" x="520.6" y="398.4" width="98.6" height="21.0"/>
<text x="569.9" y="415.2" font-family="'Liberation Sans', Arial, sans-serif" font-weight="bold" font-size="18" fill="#111" stroke="#111" stroke-width=".3" text-anchor="middle" textLength="89" lengthAdjust="spacingAndGlyphs">940090101</text>
<rect class="box" x="209.2" y="444" width="100.3" height="23.3"/>
<text x="259.4" y="461.9" font-family="'Liberation Sans', Arial, sans-serif" font-weight="bold" font-size="18" fill="#111" stroke="#111" stroke-width=".3" text-anchor="middle" textLength="89" lengthAdjust="spacingAndGlyphs">940425901</text>
<rect class="box" x="348.2" y="519.9" width="100.2" height="22.9"/>
<text x="398.3" y="537.6" font-family="'Liberation Sans', Arial, sans-serif" font-weight="bold" font-size="18" fill="#111" stroke="#111" stroke-width=".3" text-anchor="middle" textLength="89" lengthAdjust="spacingAndGlyphs">940093102</text>
<rect class="box" x="681" y="565.8" width="100.9" height="21.8"/>
<text x="731.5" y="583.0" font-family="'Liberation Sans', Arial, sans-serif" font-weight="bold" font-size="18" fill="#111" stroke="#111" stroke-width=".3" text-anchor="middle" textLength="89" lengthAdjust="spacingAndGlyphs">940166008</text>
</g>
<text x="118" y="134" font-family="'Liberation Sans', Arial, sans-serif" font-weight="bold" font-size="17.5" fill="#111" stroke="#111" stroke-width=".3" textLength="98.5" lengthAdjust="spacingAndGlyphs">PL 45.2.02...</text>
<g id="eye" fill="none" stroke="#333" stroke-width="0.9"><path d="M85.6,129.6 Q94,121.6 102.4,129.6 Q94,137.2 85.6,129.6Z"/><circle cx="94" cy="129.6" r="3.5" fill="#222"/><circle cx="94.3" cy="129.6" r="1" fill="#999" stroke="none"/><path d="M103.2,127.2 L108.4,124.8 M103.8,129.8 L108.8,129.8 M103.2,132.4 L108.4,134.6" stroke="#666"/></g>
<g id="wm" style="mix-blend-mode:multiply">
<rect x="84" y="286" width="215" height="174.5" fill="#fdfce9"/>
<circle cx="191.5" cy="345.5" r="41" fill="#e6eee3"/>
<circle cx="200.5" cy="364" r="20" fill="#fdfdf6"/>
<text x="108" y="402.3" font-family="'Liberation Sans', Arial, sans-serif" font-weight="bold" font-size="15.5" fill="#e0e6dc" textLength="171" lengthAdjust="spacingAndGlyphs">Przedsiębiorstwo Handlowe</text>
<text x="135.5" y="439" font-family="'Liberation Sans', Arial, sans-serif" font-weight="bold" font-size="33" fill="#e0e6dc" textLength="116" lengthAdjust="spacingAndGlyphs">"BIMA"</text>
<text x="311" y="394.5" font-family="'Liberation Serif', 'Times New Roman', serif" font-weight="bold" font-size="91" fill="#e3e3e3" stroke="#e3e3e3" stroke-width="1" textLength="241" lengthAdjust="spacingAndGlyphs">www.</text>
<text x="553" y="394.5" font-family="'Liberation Serif', 'Times New Roman', serif" font-weight="bold" font-size="91" fill="#e3e3e3" stroke="#e3e3e3" stroke-width="1" textLength="342" lengthAdjust="spacingAndGlyphs">bima.pl</text>
</g>
<path fill-rule="evenodd" fill="url(#fr)" d="M11,0 H989 Q1000,0 1000,11 V739 Q1000,750 989,750 H11 Q0,750 0,739 V11 Q0,0 11,0Z M20,20 V700 H980 V20Z"/>
<g id="logo">
<path d="M670,730 C760,740 880,744 974,738 L986,745 C880,753 760,750 666,744Z" fill="#2f5600" opacity="0.75" filter="url(#sh)"/>
<path d="M665,620 Q665,602 684,600.3 C760,593.5 880,592.5 960,599 Q975,600.5 975,615 L975,724 Q975,736.5 962,737 C880,740.5 760,740.5 680,735.5 Q665,734 665,720Z" fill="url(#lg)"/>
<path d="M665,620 Q665,602 684,600.3 C760,593.5 880,592.5 960,599 Q975,600.5 975,615 L975,673.8 C880,663.5 760,664.5 665,674.2Z" fill="#ffe30f"/>
<circle cx="720.2" cy="633.6" r="34" fill="url(#gc)"/>
<circle cx="731" cy="647.6" r="17.5" fill="url(#ball)"/>
<text transform="rotate(0.67 762 659)" y="657.8" font-family="'Liberation Sans', Arial, sans-serif" font-weight="bold" font-size="66" fill="#1d1a16" stroke="#1d1a16" stroke-width="3.2" stroke-linejoin="miter"><tspan x="760.1" textLength="49.7" lengthAdjust="spacingAndGlyphs">B</tspan><tspan x="812.8" textLength="21.3" lengthAdjust="spacingAndGlyphs">I</tspan><tspan x="836.7" textLength="70.6" lengthAdjust="spacingAndGlyphs">M</tspan><tspan x="909.0" textLength="51.2" lengthAdjust="spacingAndGlyphs">A</tspan></text>
<text x="681.5" y="714.3" font-family="'Liberation Sans', Arial, sans-serif" font-weight="bold" font-size="35.6" fill="#fffef2" textLength="282" lengthAdjust="spacingAndGlyphs" transform="rotate(0.4 681 714)">SERWIS I CZĘŚCI</text>
</g>
</svg></body></html>
